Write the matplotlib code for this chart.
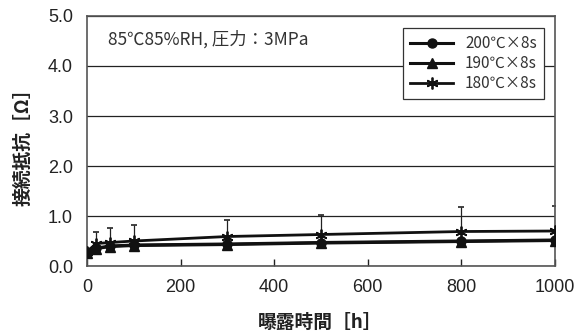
import numpy as np
import matplotlib
matplotlib.use("Agg")
import matplotlib.pyplot as plt

# data
hours = [0, 20, 50, 100, 300, 500, 800, 1000]
r200 = [0.28, 0.36, 0.40, 0.42, 0.44, 0.47, 0.50, 0.52]
r190 = [0.27, 0.35, 0.39, 0.41, 0.43, 0.46, 0.49, 0.51]
r180 = [0.29, 0.45, 0.47, 0.50, 0.59, 0.63, 0.69, 0.70]
err180 = [0.0, 0.24, 0.30, 0.33, 0.34, 0.40, 0.49, 0.51]
labels = ["200℃×8s", "190℃×8s", "180℃×8s"]
xticks = [0, 200, 400, 600, 800, 1000]
yticks = [0.0, 1.0, 2.0, 3.0, 4.0, 5.0]

jp = ["Noto Sans CJK JP", "DejaVu Sans"]
plt.rcParams['font.family'] = ["Liberation Sans", "Noto Sans CJK JP"]

fig = plt.figure(figsize=(5.75, 3.36), dpi=100)
ax = fig.add_axes([0.1513, 0.2083, 0.8139, 0.7441])

ax.errorbar(hours, r180, yerr=[np.zeros(len(err180)), err180], fmt='none',
            ecolor='#222222', elinewidth=0.9, capsize=2.3, capthick=1.2, zorder=2)
ax.plot(hours, r200, color='#111111', lw=2.2, marker='o', ms=6.5, label=labels[0], zorder=4)
ax.plot(hours, r190, color='#111111', lw=2.2, marker='^', ms=6.5, label=labels[1], zorder=4)
ax.plot(hours, r180, color='#111111', lw=2.0, marker=(6, 2, 0), ms=8.5, mew=1.3,
        label=labels[2], zorder=3)

ax.set_xlim(0, 1000)
ax.set_ylim(0, 5)
ax.set_xticks(xticks)
ax.set_yticks(yticks)
ax.set_yticklabels([f"{v:.1f}" for v in yticks])
ax.tick_params(axis='x', direction='in', length=5, width=1, labelsize=13, pad=9,
               colors='#222222')
ax.tick_params(axis='y', length=0, labelsize=13, pad=10, colors='#222222')
ax.grid(axis='y', color='#222222', lw=0.9)
ax.set_axisbelow(True)
for s in ax.spines.values():
    s.set_color('#555555')
    s.set_linewidth(1.2)

fig.text(320 / 575, 1 - 322.5 / 336, "曝露時間［h］", fontsize=13.5, fontweight='bold',
         family=jp, color='#222222', ha='center', va='center')
fig.text(23 / 575, 1 - 142 / 336, "接続抵抗［Ω］", fontsize=13.5, fontweight='bold',
         family=jp, color='#222222', ha='center', va='center', rotation=90)

ax.text(0.045, 0.906, "85℃85%RH, 圧力：3MPa", transform=ax.transAxes, fontsize=12.5,
        family=jp, color='#333333', va='center')

leg = ax.legend(loc='upper right', bbox_to_anchor=(0.9765, 0.952), borderaxespad=0,
                frameon=True, fancybox=False, framealpha=1, edgecolor='#333333',
                handlelength=2.8, handletextpad=0.8, borderpad=0.45, labelspacing=0.2,
                prop={'family': jp, 'size': 11})
leg.get_frame().set_linewidth(0.9)
for t in leg.get_texts():
    t.set_color('#333333')

fig.savefig("out.png", dpi=100)
